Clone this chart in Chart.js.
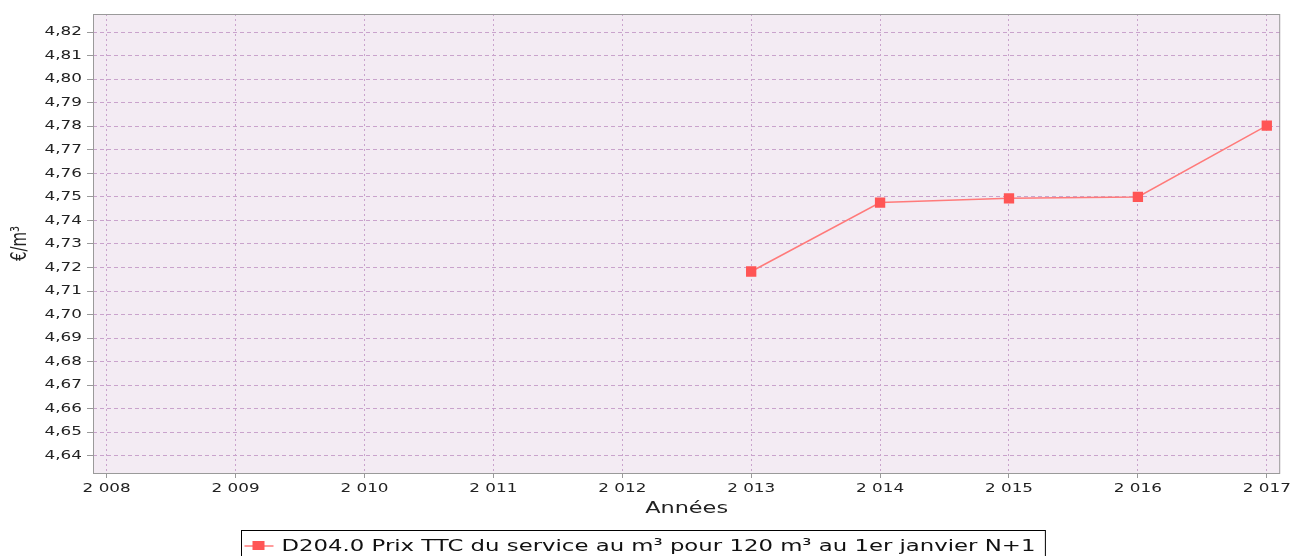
<!DOCTYPE html>
<html lang="fr">
<head>
    <meta charset="UTF-8">
    <title>D204.0 Prix TTC du service</title>
    <script src="https://cdn.jsdelivr.net/npm/chart.js"></script>
    <style>
        body {
            margin: 0;
            background: #FFFFFF;
        }
        .chart-container {
            width: 1295px;
            height: 556px;
        }
    </style>
</head>
<body>
    <div class="chart-container">
        <canvas id="chart"></canvas>
    </div>
    <script>
        // Data
        const years = [2013, 2014, 2015, 2016, 2017];
        const prices = [4.7183, 4.7476, 4.7494, 4.7500, 4.7803];
        const seriesLabel = "D204.0 Prix TTC du service au m³ pour 120 m³ au 1er janvier N+1";

        // Axis ticks
        const xTicks = [2008, 2009, 2010, 2011, 2012, 2013, 2014, 2015, 2016, 2017];
        const xTickLabels = ["2 008", "2 009", "2 010", "2 011", "2 012", "2 013", "2 014", "2 015", "2 016", "2 017"];
        const yTicks = [4.64, 4.65, 4.66, 4.67, 4.68, 4.69, 4.70, 4.71, 4.72, 4.73, 4.74, 4.75, 4.76, 4.77, 4.78, 4.79, 4.80, 4.81, 4.82];
        const yTickLabels = ["4,64", "4,65", "4,66", "4,67", "4,68", "4,69", "4,70", "4,71", "4,72", "4,73", "4,74", "4,75", "4,76", "4,77", "4,78", "4,79", "4,80", "4,81", "4,82"];

        const FONT = "'DejaVu Sans', sans-serif";
        const gridColor = "#C9A3CC";
        const frameColor = "#9A9A9A";
        const lineColor = "#FF7A7A";
        const pointColor = "#FF5555";
        const STRETCH = 1.4; // the reference text is drawn wide

        const ctx = document.getElementById('chart').getContext('2d');

        // draw all text horizontally widened, like the reference
        const rawFill = ctx.fillText.bind(ctx);
        const rawMeasure = ctx.measureText.bind(ctx);
        ctx.fillText = function (text, x, y) {
            const t = this.getTransform();
            const rotated = Math.abs(t.b) > 1e-6;
            this.save();
            this.translate(x, y);
            if (rotated) this.scale(1, STRETCH); else this.scale(STRETCH, 1);
            rawFill(text, 0, 0);
            this.restore();
        };
        ctx.measureText = function (text) {
            const m = rawMeasure(text);
            return {
                width: m.width * STRETCH,
                actualBoundingBoxLeft: m.actualBoundingBoxLeft * STRETCH,
                actualBoundingBoxRight: m.actualBoundingBoxRight * STRETCH,
                actualBoundingBoxAscent: m.actualBoundingBoxAscent,
                actualBoundingBoxDescent: m.actualBoundingBoxDescent,
                fontBoundingBoxAscent: m.fontBoundingBoxAscent,
                fontBoundingBoxDescent: m.fontBoundingBoxDescent
            };
        };

        // plot background, frame and the boxed legend
        const plotDecor = {
            id: 'plotDecor',
            beforeDraw(chart) {
                const a = chart.chartArea;
                const c = chart.ctx;
                c.save();
                c.fillStyle = "#F3EBF3";
                c.fillRect(a.left, a.top, a.right - a.left, a.bottom - a.top);
                c.restore();
            },
            afterDraw(chart) {
                const a = chart.chartArea;
                const c = chart.ctx;
                c.save();
                c.strokeStyle = frameColor;
                c.lineWidth = 1;
                c.strokeRect(a.left + 0.5, a.top + 0.5, a.right - a.left - 1, a.bottom - a.top);

                // legend
                const ds = chart.data.datasets[0];
                c.font = "16.3px " + FONT;
                const tw = c.measureText(ds.label).width;
                const boxW = 40 + tw + 10;
                const left = Math.round(chart.width / 2 - 5 - boxW / 2) + 0.5;
                const top = 530.5;
                const cy = 546;
                c.strokeStyle = "#000000";
                c.strokeRect(left, top, boxW, 40);
                c.strokeStyle = ds.borderColor;
                c.lineWidth = 1.5;
                c.beginPath();
                c.moveTo(left + 3, cy);
                c.lineTo(left + 32, cy);
                c.stroke();
                c.fillStyle = ds.backgroundColor;
                c.fillRect(left + 11, cy - 5, 12, 9);
                c.fillStyle = "#111111";
                c.textAlign = 'left';
                c.textBaseline = 'middle';
                c.fillText(ds.label, left + 40, cy + 1);
                c.restore();
            }
        };

        const chart = new Chart(ctx, {
            type: 'line',
            data: {
                datasets: [{
                    label: seriesLabel,
                    data: years.map((y, i) => ({ x: y, y: prices[i] })),
                    borderColor: lineColor,
                    backgroundColor: pointColor,
                    borderWidth: 1.5,
                    pointStyle: 'rect',
                    pointRadius: 7.3,
                    pointHoverRadius: 7.3,
                    pointBorderWidth: 0,
                    tension: 0
                }]
            },
            options: {
                responsive: true,
                maintainAspectRatio: false,
                animation: false,
                layout: {
                    padding: { top: 14, right: 14, left: 0, bottom: 0 }
                },
                scales: {
                    x: {
                        type: 'linear',
                        min: 2007.894,
                        max: 2017.104,
                        afterBuildTicks: s => { s.ticks = xTicks.map(v => ({ value: v })); },
                        afterFit: s => { s.height = 83; },
                        ticks: {
                            callback: (v) => xTickLabels[xTicks.indexOf(v)],
                            color: "#222222",
                            font: { family: FONT, size: 12 },
                            padding: 4,
                            maxRotation: 0,
                            autoSkip: false
                        },
                        grid: {
                            color: gridColor,
                            lineWidth: 1,
                            tickColor: frameColor,
                            tickLength: 5
                        },
                        border: { display: false, dash: [2, 3] },
                        title: {
                            display: true,
                            text: "Années",
                            color: "#222222",
                            font: { family: FONT, size: 16 },
                            padding: { top: 2, bottom: 38 }
                        }
                    },
                    y: {
                        type: 'linear',
                        min: 4.63265,
                        max: 4.82777,
                        afterBuildTicks: s => { s.ticks = yTicks.map(v => ({ value: v })); },
                        afterFit: s => { s.width = 93; },
                        ticks: {
                            callback: (v) => {
                                const i = yTicks.findIndex(t => Math.abs(t - v) < 1e-6);
                                return i >= 0 ? yTickLabels[i] : '';
                            },
                            color: "#222222",
                            font: { family: FONT, size: 12 },
                            padding: 5,
                            autoSkip: false
                        },
                        grid: {
                            color: gridColor,
                            lineWidth: 1,
                            tickColor: frameColor,
                            tickLength: 6
                        },
                        border: { display: false, dash: [4, 3] },
                        title: {
                            display: true,
                            text: "€/m³",
                            color: "#222222",
                            font: { family: FONT, size: 15 },
                            padding: { top: 12, bottom: 0 }
                        }
                    }
                },
                plugins: {
                    legend: { display: false },
                    tooltip: { enabled: false }
                }
            },
            plugins: [plotDecor]
        });
    </script>
</body>
</html>
